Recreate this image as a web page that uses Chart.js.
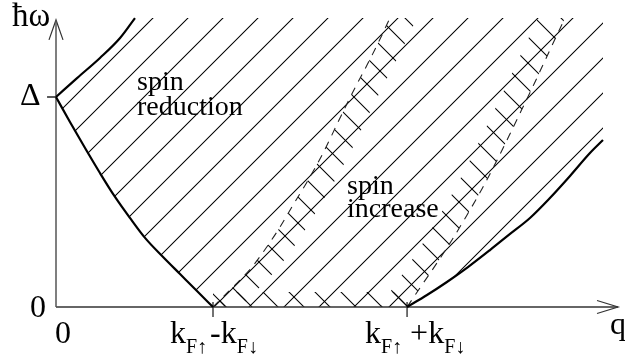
<!DOCTYPE html>
<html><head><meta charset="utf-8">
<script src="https://cdn.jsdelivr.net/npm/chart.js@4.4.1/dist/chart.umd.min.js"></script>
<style>html,body{margin:0;padding:0;background:#fff;}#wrap{width:625px;height:357px;}</style>
</head><body><div id="wrap"><canvas id="c" width="625" height="357"></canvas></div>
<script>
// Units: q in units of (kF↑ − kF↓), ħω in units of Δ
const xTickValues = [0, 1.0, 2.236];          // 0, kF↑−kF↓, kF↑+kF↓
const yTickValues = [0, 1.0];                 // 0, Δ
const qAxisEnd = 3.58;
const wAxisEnd = 1.367;
const wTop = 1.376;                            // upper limit of drawn continuum

// boundaries of the Stoner continuum
const upperEdge = [[0,1.0],[0.134,1.090],[0.280,1.186],[0.408,1.281],[0.503,1.376]];
const lowerEdge = [[0,1.0],[0.089,0.881],[0.185,0.757],[0.280,0.638],[0.376,0.524],[0.471,0.424],[0.567,0.329],[0.682,0.238],[0.790,0.157],[0.898,0.076],[1.0,0]];
const rightEdge = [[2.236,0],[2.363,0.057],[2.490,0.119],[2.624,0.190],[2.764,0.271],[2.892,0.348],[3.019,0.424],[3.146,0.519],[3.274,0.624],[3.401,0.733],[3.484,0.795]];
// dashed limits of the spin-increase region
const dashed1 = [[1.0,0],[1.064,0.048],[1.153,0.114],[1.248,0.190],[1.338,0.281],[1.427,0.381],[1.510,0.486],[1.599,0.595],[1.701,0.733],[1.809,0.900],[1.904,1.043],[1.981,1.152],[2.064,1.276],[2.127,1.376]];
const dashed2 = [[2.236,0],[2.331,0.105],[2.427,0.210],[2.522,0.319],[2.618,0.438],[2.713,0.562],[2.803,0.690],[2.885,0.814],[2.962,0.933],[3.045,1.062],[3.146,1.224],[3.242,1.376]];

// ---- style constants ----
const bandWidth = 0.172;   // width (in q) of cross-hatched band next to dashed curves
const stripHeight = 0.071; // height of cross-hatched strip along q axis
const serif = '"Liberation Serif","Times New Roman",serif';

const P = a => a.map(([x,y]) => ({x, y}));
const shift = (a, d) => a.map(([x,y]) => [x + d, y]);

const canvas = document.getElementById('c');
const ctx0 = canvas.getContext('2d');
function makeHatch(period, dir, offset) {
  const c = document.createElement('canvas');
  c.width = c.height = period;
  const g = c.getContext('2d');
  g.strokeStyle = '#000'; g.lineWidth = 1.05;
  g.beginPath();
  for (const k of [-1,0,1,2]) {
    const C = k * period;
    if (dir > 0) { g.moveTo(-period, C + period); g.lineTo(2*period, C - 2*period); }
    else { g.moveTo(-period, -period - C); g.lineTo(2*period, 2*period - C); }
  }
  g.stroke();
  const p = ctx0.createPattern(c, 'repeat');
  p.setTransform(new DOMMatrix().translate(offset, 0));
  return p;
}
const hatchMain = makeHatch(35, 1, 31);
const hatchCross = makeHatch(26, -1, 23);

const datasets = [];
function line(pts, o) {
  datasets.push(Object.assign({data: P(pts), borderColor: '#000', borderWidth: 1, pointRadius: 0, tension: 0, fill: false}, o));
  return datasets.length - 1;
}
const smooth = {cubicInterpolationMode: 'monotone'};
// visible lines
line(upperEdge, Object.assign({borderWidth: 2.2}, smooth));
line(lowerEdge, Object.assign({borderWidth: 2.2}, smooth));
line(rightEdge, Object.assign({borderWidth: 2.2}, smooth));
line(dashed1, Object.assign({borderWidth: 1.1, borderDash: [8, 7], borderColor: '#222'}, smooth));
line(dashed2, Object.assign({borderWidth: 1.1, borderDash: [8, 7], borderColor: '#222'}, smooth));
// axes with arrows
line([[0,0],[0,wAxisEnd]], {borderWidth: 1.5, borderColor: '#555'});
line([[-0.0446,wAxisEnd-0.095],[0,wAxisEnd],[0.0446,wAxisEnd-0.095]], {borderWidth: 1.2, borderColor: '#333'});
line([[0,0],[qAxisEnd,0]], {borderWidth: 1.5, borderColor: '#333'});
line([[qAxisEnd-0.134,0.031],[qAxisEnd,0],[qAxisEnd-0.134,-0.031]], {borderWidth: 1.2, borderColor: '#333'});
// tick marks
line([[-0.057,yTickValues[1]],[0,yTickValues[1]]], {borderWidth: 1.3});
for (const t of xTickValues.slice(1)) line([[t,0.024],[t,-0.048]], {borderWidth: 1.1});

const inv = {borderWidth: 0, borderColor: 'rgba(0,0,0,0)'};
function region(top, bottom, pattern) {
  const b = line(bottom, Object.assign({}, inv));
  line(top, Object.assign({}, inv, {fill: b, backgroundColor: pattern}));
}
// main hatched continuum
const qRight = rightEdge[rightEdge.length-1][0];
region([...upperEdge, [qRight, wTop]], [...lowerEdge, ...rightEdge], hatchMain);
// cross-hatched band along dashed1
const d1top = dashed1[dashed1.length-1];
region([...dashed1, [d1top[0] + bandWidth, wTop]], [[dashed1[0][0],0], ...shift(dashed1, bandWidth)], hatchCross);
// cross-hatched band along dashed2
const d2s = shift(dashed2, -bandWidth);
region([...d2s, [dashed2[dashed2.length-1][0], wTop]], [d2s[0], ...dashed2], hatchCross);
// strip along q axis
region([[xTickValues[1], stripHeight],[xTickValues[2], stripHeight]], [[xTickValues[1],0],[xTickValues[2],0]], hatchCross);

// text labels (position in data units, baseline)
const labels = [
  {q: -0.280, w: 1.338, runs: [{t: 'ħω', s: 33}]},
  {q: -0.229, w: 0.962, runs: [{t: 'Δ', s: 32}]},
  {q: -0.064, w: -0.048, align: 'right', runs: [{t: '0', s: 32}]},
  {q: -0.006, w: -0.171, runs: [{t: '0', s: 32}]},
  {q: 0.726, w: -0.171, runs: [{t: 'k', s: 32}, {t: 'F↑', s: 20, dy: 10}, {t: '-', s: 32, dx: 3}, {t: 'k', s: 32}, {t: 'F↓', s: 20, dy: 10}]},
  {q: 1.968, w: -0.171, runs: [{t: 'k', s: 32}, {t: 'F↑', s: 20, dy: 10}, {t: '+', s: 32, dx: 8}, {t: 'k', s: 32}, {t: 'F↓', s: 20, dy: 10}]},
  {q: 3.529, w: -0.129, runs: [{t: 'q', s: 32}]},
  {q: 0.516, w: 1.033, runs: [{t: 'spin', s: 28}]},
  {q: 0.516, w: 0.914, runs: [{t: 'reduction', s: 28}]},
  {q: 1.854, w: 0.538, runs: [{t: 'spin', s: 28}]},
  {q: 1.854, w: 0.429, runs: [{t: 'increase', s: 28}]}
];
const labelPlugin = {
  id: 'labels',
  afterDatasetsDraw(chart) {
    const c = chart.ctx, xs = chart.scales.x, ys = chart.scales.y;
    c.save(); c.fillStyle = '#000'; c.textBaseline = 'alphabetic'; c.textAlign = 'left';
    for (const L of labels) {
      let total = 0;
      for (const r of L.runs) { c.font = r.s + 'px ' + serif; total += (r.dx || 0) + c.measureText(r.t).width; }
      let x = xs.getPixelForValue(L.q) - (L.align === 'right' ? total : 0);
      const y = ys.getPixelForValue(L.w);
      for (const r of L.runs) {
        c.font = r.s + 'px ' + serif;
        x += (r.dx || 0);
        c.fillText(r.t, x, y + (r.dy || 0));
        x += c.measureText(r.t).width;
      }
    }
    c.restore();
  }
};

new Chart(canvas, {
  type: 'line',
  data: {datasets},
  options: {
    responsive: false, animation: false, devicePixelRatio: 1,
    layout: {padding: 0},
    plugins: {legend: {display: false}, tooltip: {enabled: false}, colors: {enabled: false}},
    scales: {
      x: {type: 'linear', display: false, min: -0.35669, max: 3.62420},
      y: {type: 'linear', display: false, min: -0.23810, max: 1.46190}
    },
    events: []
  },
  plugins: [labelPlugin]
});
</script></body></html>
